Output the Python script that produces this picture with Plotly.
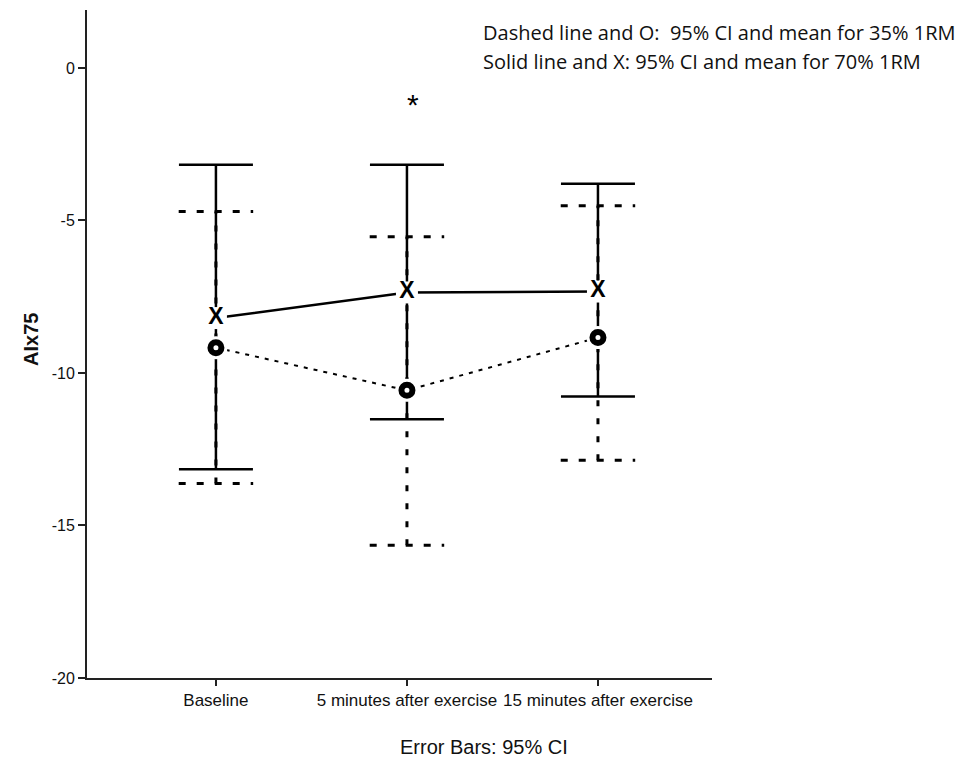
import plotly.graph_objects as go

categories = ["Baseline", "5 minutes after exercise", "15 minutes after exercise"]

# 70% 1RM (solid line, X)
mean_70 = [-8.2, -7.36, -7.33]
ci_low_70 = [-13.16, -11.52, -10.77]
ci_high_70 = [-3.17, -3.17, -3.80]

# 35% 1RM (dashed line, O)
mean_35 = [-9.17, -10.57, -8.84]
ci_low_35 = [-13.62, -15.65, -12.86]
ci_high_35 = [-4.71, -5.53, -4.52]

y_ticks = [0, -5, -10, -15, -20]
y_ticktext = [str(v) for v in y_ticks]

xpos = list(range(len(categories)))
cap = 0.195  # half cap width in category units

FONT = "Liberation Sans, Arial, sans-serif"

fig = go.Figure()

# solid CI + connecting line (70%)
fig.add_trace(go.Scatter(
    x=xpos, y=mean_70, mode="lines",
    line=dict(color="black", width=2.5),
    error_y=dict(type="data", symmetric=False,
                 array=[h - m for h, m in zip(ci_high_70, mean_70)],
                 arrayminus=[m - l for m, l in zip(mean_70, ci_low_70)],
                 color="black", thickness=2.5, width=37),
    hoverinfo="skip", showlegend=False))

# dashed CI (35%): vertical segments and caps
vx, vy = [], []
for i, lo, hi in zip(xpos, ci_low_35, ci_high_35):
    vx += [i, i, None]
    vy += [lo, hi, None]
fig.add_trace(go.Scatter(x=vx, y=vy, mode="lines",
                         line=dict(color="black", width=3, dash="6px,12px"),
                         hoverinfo="skip", showlegend=False))
cx, cy = [], []
for i, lo, hi in zip(xpos, ci_low_35, ci_high_35):
    cx += [i - cap, i + cap, None, i - cap, i + cap, None]
    cy += [lo, lo, None, hi, hi, None]
fig.add_trace(go.Scatter(x=cx, y=cy, mode="lines",
                         line=dict(color="black", width=3, dash="7px,11px"),
                         hoverinfo="skip", showlegend=False))

# dotted connecting line for 35% means
fig.add_trace(go.Scatter(x=xpos, y=mean_35, mode="lines",
                         line=dict(color="black", width=2, dash="4px,6px"),
                         hoverinfo="skip", showlegend=False))

# white knock-out backgrounds behind markers
fig.add_trace(go.Scatter(x=xpos, y=mean_70, mode="markers",
                         marker=dict(symbol="square", size=22, color="white"),
                         hoverinfo="skip", showlegend=False))
fig.add_trace(go.Scatter(x=xpos, y=mean_35, mode="markers",
                         marker=dict(symbol="circle", size=23, color="white"),
                         hoverinfo="skip", showlegend=False))

# markers
fig.add_trace(go.Scatter(x=xpos, y=mean_70, mode="text", text=["X"] * 3,
                         textposition="middle center",
                         textfont=dict(family=FONT, size=23, color="black", weight="bold"),
                         hoverinfo="skip", showlegend=False))
fig.add_trace(go.Scatter(x=xpos, y=mean_35, mode="markers",
                         marker=dict(symbol="circle", size=11, color="white",
                                     line=dict(color="black", width=6)),
                         hoverinfo="skip", showlegend=False))

fig.update_layout(
    width=970, height=752,
    margin=dict(l=79, r=266, t=2, b=82),
    paper_bgcolor="white", plot_bgcolor="white",
    font=dict(family=FONT, color="#111"),
    xaxis=dict(range=[-0.675, 2.597], tickmode="array", tickvals=xpos, ticktext=categories,
               showline=True, linecolor="#222", linewidth=2, ticks="outside", ticklen=6,
               tickwidth=1.5, tickcolor="#222", showgrid=False, zeroline=False,
               tickfont=dict(size=17, family=FONT, color="#111")),
    yaxis=dict(range=[-20, 1.9], tickmode="array", tickvals=y_ticks, ticktext=y_ticktext,
               showline=True, linecolor="#222", linewidth=2, ticks="outside", ticklen=7,
               tickwidth=2, tickcolor="#222", showgrid=False, zeroline=False,
               tickfont=dict(size=16, family=FONT, color="#111")),
    annotations=[
        dict(text="*", x=1.03, y=-1.2, xref="x", yref="y", showarrow=False,
             font=dict(size=30, family=FONT, color="black")),
        dict(text="Dashed line and O:  95% CI and mean for 35% 1RM", x=0.630, y=0.9656,
             xref="paper", yref="paper", xanchor="left", yanchor="middle", showarrow=False,
             font=dict(size=20, family="Open Sans, sans-serif", color="#111")),
        dict(text="Solid line and X: 95% CI and mean for 70% 1RM", x=0.630, y=0.9222,
             xref="paper", yref="paper", xanchor="left", yanchor="middle", showarrow=False,
             font=dict(size=20, family="Open Sans, sans-serif", color="#111")),
        dict(text="Error Bars: 95% CI", x=0.635, y=-0.103, xref="paper", yref="paper",
             xanchor="center", yanchor="middle", showarrow=False,
             font=dict(size=20, family=FONT, color="#111")),
        dict(text="<b>AIx75</b>", x=-0.0896, y=0.506, xref="paper", yref="paper",
             textangle=-90, xanchor="center", yanchor="middle", showarrow=False,
             font=dict(size=20, family=FONT, color="#111")),
    ],
)

fig.write_html("out.html")
